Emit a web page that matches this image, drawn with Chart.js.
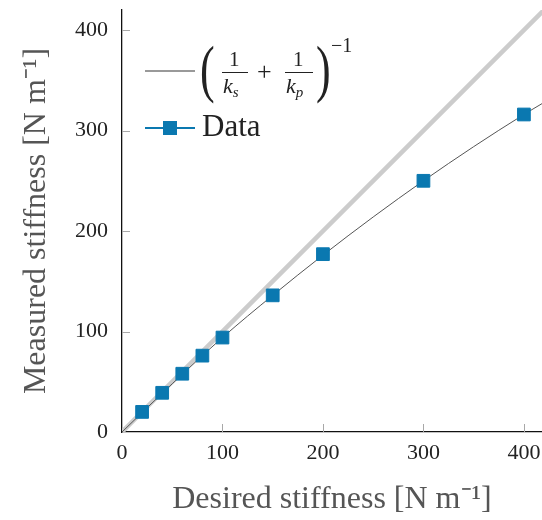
<!DOCTYPE html>
<html>
<head>
<meta charset="utf-8">
<script src="https://cdn.jsdelivr.net/npm/chart.js@4"></script>
<style>
  body { margin: 0; background: #fff; }
  #wrap { position: relative; width: 542px; height: 520px; }
  .lg { position: absolute; font-family: "Liberation Serif", serif; color: #222; line-height: 1; white-space: nowrap; }
  .bar { position: absolute; height: 1.3px; background: #222; }
</style>
</head>
<body>
<div id="wrap">
  <canvas id="myChart" width="542" height="520"></canvas>

  <!-- legend, drawn as html so the fraction can be laid out -->
  <div class="lg" style="left:145px;top:70px;width:50px;height:1.6px;background:#999;"></div>
  <div class="lg" style="left:200px;top:38px;font-size:44px;transform:scaleY(1.45);transform-origin:0 0;">(</div>
  <div class="lg" style="left:229px;top:49px;font-size:21px;">1</div>
  <div class="bar" style="left:222px;top:72px;width:26px;"></div>
  <div class="lg" style="left:223px;top:75px;font-size:22px;font-style:italic;">k<span style="font-size:15px;position:relative;top:4px;">s</span></div>
  <div class="lg" style="left:257px;top:59px;font-size:26px;">+</div>
  <div class="lg" style="left:293px;top:49px;font-size:21px;">1</div>
  <div class="bar" style="left:285px;top:72px;width:28px;"></div>
  <div class="lg" style="left:286px;top:75px;font-size:22px;font-style:italic;">k<span style="font-size:15px;position:relative;top:4px;">p</span></div>
  <div class="lg" style="left:316px;top:38px;font-size:44px;transform:scaleY(1.45);transform-origin:0 0;">)</div>
  <div class="lg" style="left:331px;top:35px;font-size:20px;">−1</div>

  <div class="lg" style="left:145px;top:127px;width:50px;height:1.6px;background:#0a78b0;"></div>
  <div class="lg" style="left:163px;top:121px;width:14px;height:14px;background:#0a78b0;"></div>
  <div class="lg" style="left:202px;top:110px;font-size:31px;">Data</div>
</div>

<script>
// measured points
const desired = [20, 40, 60, 80, 100, 150, 200, 300, 400];
const measured = [20, 39, 58, 76, 94, 136, 177, 250, 316];

// series stiffness curve
const modelX = [0, 50, 100, 150, 200, 250, 300, 350, 400, 420];
const modelY = [0, 48, 94, 136, 176, 214, 250, 284, 316, 328];

// ideal response, measured = desired
const idealX = [0, 420];
const idealY = [0, 420];

const tickValues = [0, 100, 200, 300, 400];

const toPoints = (xs, ys) => xs.map((x, i) => ({ x: x, y: ys[i] }));

// tick marks point into the plot
const innerTicks = {
    id: 'innerTicks',
    afterDraw(chart) {
        const { ctx, chartArea, scales } = chart;
        ctx.save();
        ctx.strokeStyle = '#a8a8a8';
        ctx.lineWidth = 1;
        ctx.beginPath();
        scales.x.ticks.forEach((t, i) => {
            if (t.value === 0) return;
            const px = Math.round(scales.x.getPixelForTick(i)) + 0.5;
            ctx.moveTo(px, chartArea.bottom);
            ctx.lineTo(px, chartArea.bottom - 8);
        });
        scales.y.ticks.forEach((t, i) => {
            if (t.value === 0) return;
            const py = Math.round(scales.y.getPixelForTick(i)) + 0.5;
            ctx.moveTo(chartArea.left, py);
            ctx.lineTo(chartArea.left + 8, py);
        });
        ctx.stroke();
        ctx.restore();
    }
};

const myChartRef = document.getElementById('myChart').getContext('2d');

new Chart(myChartRef, {
    type: 'scatter',
    data: {
        datasets: [
            {
                label: 'Data',
                data: toPoints(desired, measured),
                showLine: false,
                pointStyle: 'rect',
                pointRadius: 9,
                borderWidth: 1,
                borderColor: '#0a78b0',
                backgroundColor: '#0a78b0',
                order: 0
            },
            {
                label: 'model',
                data: toPoints(modelX, modelY),
                showLine: true,
                cubicInterpolationMode: 'monotone',
                pointRadius: 0,
                borderWidth: 1,
                borderColor: '#555555',
                order: 1
            },
            {
                label: 'ideal',
                data: toPoints(idealX, idealY),
                showLine: true,
                pointRadius: 0,
                borderWidth: 4.5,
                borderColor: '#cccccc',
                order: 2
            }
        ]
    },
    options: {
        responsive: false,
        animation: false,
        layout: { autoPadding: false, padding: { top: 10, right: 0, left: 0, bottom: 0 } },
        plugins: {
            legend: { display: false },
            tooltip: { enabled: false }
        },
        scales: {
            x: {
                type: 'linear',
                min: 0,
                max: 418,
                afterBuildTicks: (scale) => { scale.ticks = tickValues.map(v => ({ value: v })); },
                afterFit: (scale) => {
                    scale.height = 88;
                    scale.paddingLeft = 0;
                    scale.paddingRight = 0;
                },
                grid: { drawOnChartArea: false, drawTicks: false },
                border: { color: '#111', width: 1.3 },
                ticks: {
                    padding: 8,
                    color: '#222',
                    font: { family: 'Liberation Serif', size: 22 }
                },
                title: {
                    display: true,
                    text: 'Desired stiffness [N m⁻¹]',
                    color: '#555',
                    padding: { top: 0, bottom: 1 },
                    font: { family: 'Liberation Serif', size: 32, lineHeight: 1.2 }
                }
            },
            y: {
                type: 'linear',
                min: 0,
                max: 420,
                afterBuildTicks: (scale) => { scale.ticks = tickValues.map(v => ({ value: v })); },
                afterFit: (scale) => {
                    scale.width = 122;
                    scale.paddingTop = 0;
                    scale.paddingBottom = 0;
                },
                grid: { drawOnChartArea: false, drawTicks: false },
                border: { color: '#111', width: 1.3 },
                ticks: {
                    padding: 14,
                    color: '#222',
                    font: { family: 'Liberation Serif', size: 22 }
                },
                title: {
                    display: true,
                    text: 'Measured stiffness [N m⁻¹]',
                    color: '#555',
                    padding: { top: 17, bottom: 0 },
                    font: { family: 'Liberation Serif', size: 32, lineHeight: 1.2 }
                }
            }
        }
    },
    plugins: [innerTicks]
});
</script>
</body>
</html>
